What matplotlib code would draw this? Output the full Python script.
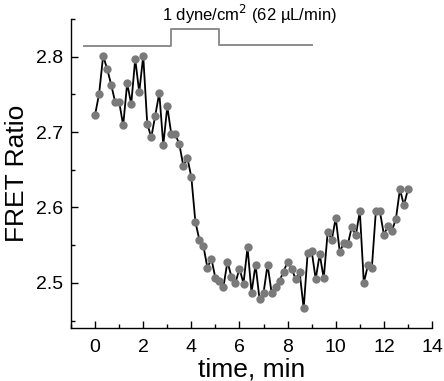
import matplotlib
matplotlib.use("Agg")
import matplotlib.pyplot as plt
import numpy as np
from matplotlib.ticker import MultipleLocator

plt.rcParams['font.family'] = ['Liberation Sans', 'DejaVu Sans']

# time in minutes (10 s sampling)
time_min = [i / 6 for i in range(79)]
fret_ratio = [
    2.723, 2.751, 2.801, 2.784, 2.763, 2.740, 2.740, 2.709, 2.765, 2.737,
    2.797, 2.753, 2.801, 2.711, 2.693, 2.722, 2.752, 2.683, 2.734, 2.697,
    2.697, 2.684, 2.655, 2.666, 2.640, 2.581, 2.557, 2.549, 2.520, 2.532,
    2.506, 2.502, 2.495, 2.528, 2.508, 2.500, 2.519, 2.499, 2.547, 2.487,
    2.524, 2.478, 2.487, 2.524, 2.487, 2.495, 2.503, 2.515, 2.528, 2.519,
    2.505, 2.514, 2.466, 2.540, 2.542, 2.505, 2.538, 2.506, 2.568, 2.557,
    2.586, 2.541, 2.553, 2.551, 2.574, 2.563, 2.595, 2.500, 2.523, 2.520,
    2.595, 2.595, 2.564, 2.575, 2.569, 2.585, 2.624, 2.603, 2.624,
]

# shear stress protocol trace (drawn above the data)
stim_times = [-0.46, 3.16, 3.16, 5.15, 5.15, 9.0]
stim_levels = [2.814, 2.814, 2.837, 2.837, 2.815, 2.815]
stim_label = '1 dyne/cm$^2$ (62 \u00b5L/min)'

x_ticks = [0, 2, 4, 6, 8, 10, 12, 14]
y_ticks = [2.5, 2.6, 2.7, 2.8]

fig = plt.figure(figsize=(4.44, 3.81), dpi=100)
ax = fig.add_axes([0.160, 0.139, 0.813, 0.811])

ax.plot(stim_times, stim_levels, color='#8c8c8c', lw=1.4, clip_on=False, zorder=2)
ax.plot(time_min, fret_ratio, color='black', lw=1.3, zorder=3)
ax.plot(time_min, fret_ratio, 'o', color='#7a7a7a', markersize=6.0,
        markeredgewidth=0, zorder=4)

ax.set_xlim(-1, 14)
ax.set_ylim(2.44, 2.85)
ax.set_xticks(x_ticks)
ax.set_yticks(y_ticks)
ax.set_yticklabels([f'{v:.1f}' for v in y_ticks])
ax.xaxis.set_minor_locator(MultipleLocator(1))
ax.yaxis.set_minor_locator(MultipleLocator(0.05))
ax.tick_params(axis='both', which='major', direction='in', length=5, width=1,
               labelsize=14)
ax.tick_params(axis='x', which='major', pad=8)
ax.tick_params(axis='y', which='major', pad=6)
ax.tick_params(axis='both', which='minor', direction='in', length=3, width=1)

for s in ['top', 'right']:
    ax.spines[s].set_visible(False)
for s in ['left', 'bottom']:
    ax.spines[s].set_linewidth(1.0)

ax.set_xlabel('time, min', fontsize=19, labelpad=1)
ax.set_ylabel('FRET Ratio', fontsize=19, labelpad=5)

ax.text(6.4, 2.847, stim_label, ha='center', va='baseline', fontsize=12,
        clip_on=False)

fig.savefig('out.png', dpi=100)
